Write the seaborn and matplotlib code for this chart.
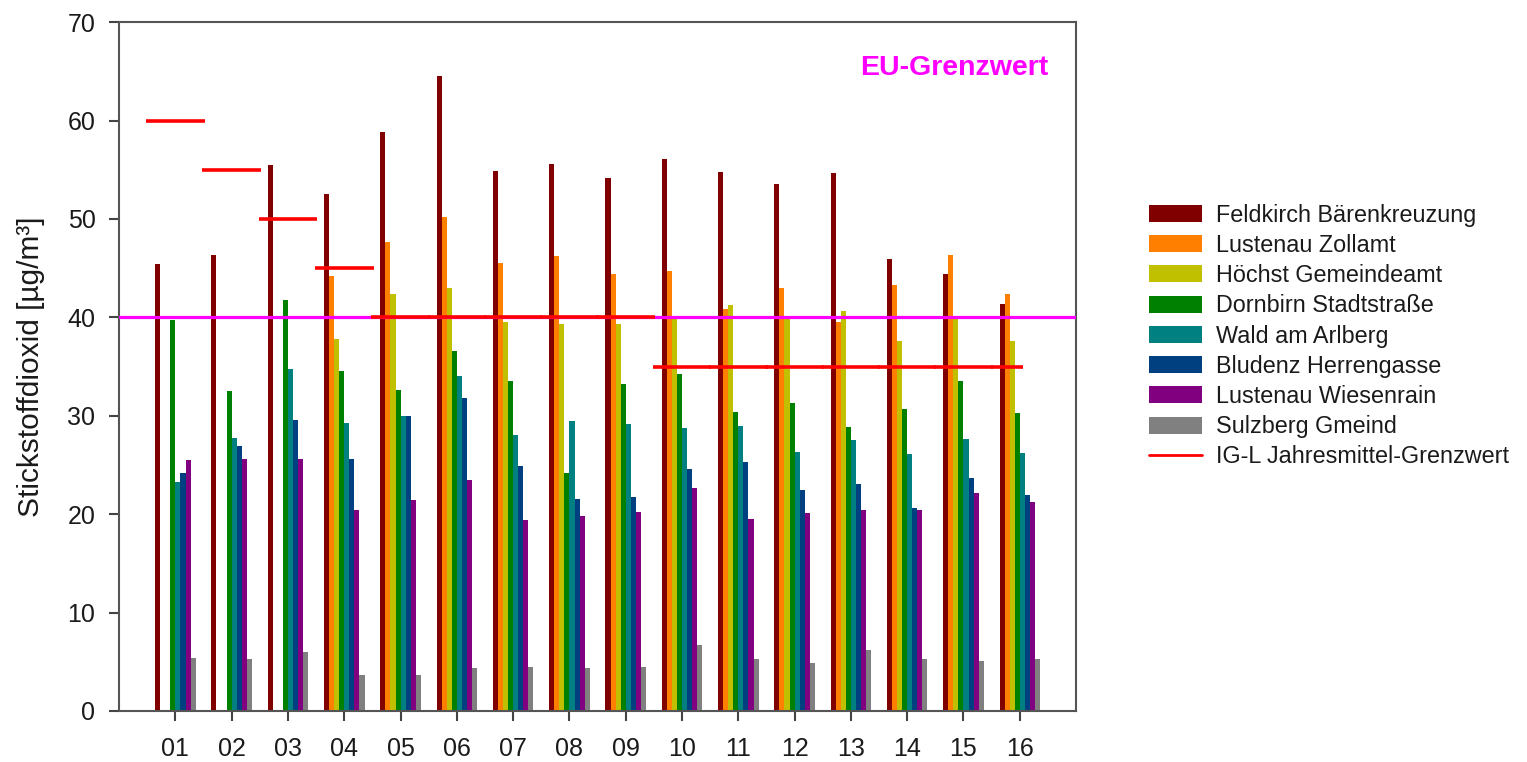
import numpy as np
import pandas as pd
import matplotlib
matplotlib.use("Agg")
import matplotlib.pyplot as plt
from matplotlib.patches import Patch
from matplotlib.lines import Line2D
import seaborn as sns

sns.set_theme(style="white")
plt.rcParams["font.family"] = ["Liberation Sans", "DejaVu Sans"]

# Data (NO2 annual means, µg/m³)
years = ["01", "02", "03", "04", "05", "06", "07", "08",
         "09", "10", "11", "12", "13", "14", "15", "16"]
stations = ["Feldkirch Bärenkreuzung", "Lustenau Zollamt", "Höchst Gemeindeamt",
            "Dornbirn Stadtstraße", "Wald am Arlberg", "Bludenz Herrengasse",
            "Lustenau Wiesenrain", "Sulzberg Gmeind"]

feldkirch = [45.4, 46.3, 55.5, 52.5, 58.8, 64.5, 54.9, 55.6, 54.2, 56.1, 54.8, 53.5, 54.7, 45.9, 44.4, 41.4]
lustenau_zoll = [np.nan, np.nan, np.nan, 44.2, 47.7, 50.2, 45.5, 46.2, 44.4, 44.7, 40.8, 43.0, 39.5, 43.3, 46.3, 42.4]
hoechst = [np.nan, np.nan, np.nan, 37.8, 42.4, 43.0, 39.5, 39.3, 39.3, 39.8, 41.3, 40.0, 40.6, 37.6, 39.8, 37.6]
dornbirn = [39.7, 32.5, 41.8, 34.5, 32.6, 36.6, 33.5, 24.2, 33.2, 34.2, 30.4, 31.3, 28.9, 30.7, 33.5, 30.3]
wald = [23.3, 27.7, 34.7, 29.3, 30.0, 34.0, 28.0, 29.5, 29.2, 28.8, 29.0, 26.3, 27.5, 26.1, 27.6, 26.2]
bludenz = [24.2, 26.9, 29.6, 25.6, 30.0, 31.8, 24.9, 21.5, 21.7, 24.6, 25.3, 22.5, 23.1, 20.6, 23.7, 21.9]
wiesenrain = [25.5, 25.6, 25.6, 20.4, 21.4, 23.5, 19.4, 19.8, 20.2, 22.7, 19.5, 20.1, 20.4, 20.4, 22.1, 21.2]
sulzberg = [5.4, 5.3, 6.0, 3.7, 3.7, 4.4, 4.5, 4.4, 4.5, 6.7, 5.3, 4.9, 6.2, 5.3, 5.1, 5.3]

igl_limit = [60, 55, 50, 45, 40, 40, 40, 40, 40, 35, 35, 35, 35, 35, 35, 35]
eu_limit = 40

colors = ["#800000", "#FF8000", "#C0C000", "#008000",
          "#008080", "#004080", "#800080", "#808080"]

series = [feldkirch, lustenau_zoll, hoechst, dornbirn, wald, bludenz, wiesenrain, sulzberg]
df = pd.concat(
    [pd.DataFrame({"Jahr": years, "Wert": vals, "Station": name})
     for name, vals in zip(stations, series)],
    ignore_index=True,
)

fig, ax = plt.subplots(figsize=(15.27, 7.62), dpi=100)
fig.subplots_adjust(left=0.078, right=0.7047, bottom=0.067, top=0.971)

sns.barplot(data=df, x="Jahr", y="Wert", hue="Station", order=years,
            hue_order=stations, palette=colors, saturation=1, width=0.72,
            linewidth=0, legend=False, ax=ax)

# EU limit
ax.axhline(eu_limit, color="#FF00FF", linewidth=2.3, zorder=3)

# IG-L annual limit per year
n = len(years)
for i, v in enumerate(igl_limit):
    ax.hlines(v, i - 0.52, min(i + 0.52, n - 1 + 0.05), color="#FF0000",
              linewidth=2.6, zorder=4)

ax.text(15.5, 65.3, "EU-Grenzwert", color="#FF00FF", fontsize=20.5,
        fontweight="bold", ha="right", va="center")

ax.set_xlim(-1, 16)
ax.set_ylim(0, 70)
ax.set_yticks(np.arange(0, 71, 10))
ax.set_xlabel("")
ax.set_ylabel("Stickstoffdioxid [µg/m³]", fontsize=21.5, labelpad=16,
              color="#1a1a1a")

for sp in ax.spines.values():
    sp.set_color("#555555")
    sp.set_linewidth(1.5)
ax.tick_params(axis="both", direction="out", length=7, width=1.5,
               color="#444444", labelsize=18, labelcolor="#1a1a1a")
ax.tick_params(axis="x", pad=12, bottom=True)
ax.tick_params(axis="y", pad=10, left=True)

handles = [Patch(facecolor=c, edgecolor="none") for c in colors]
handles.append(Line2D([0], [0], color="#FF0000", linewidth=2))
leg = fig.legend(handles, stations + ["IG-L Jahresmittel-Grenzwert"],
                 loc="center left", bbox_to_anchor=(0.7446, 0.559),
                 frameon=False, fontsize=16.8, borderpad=0, handlelength=2.3,
                 handleheight=0.74, handletextpad=0.6, labelspacing=0.31)
for t in leg.get_texts():
    t.set_color("#1a1a1a")

fig.savefig("out.png", dpi=100)
plt.close(fig)
